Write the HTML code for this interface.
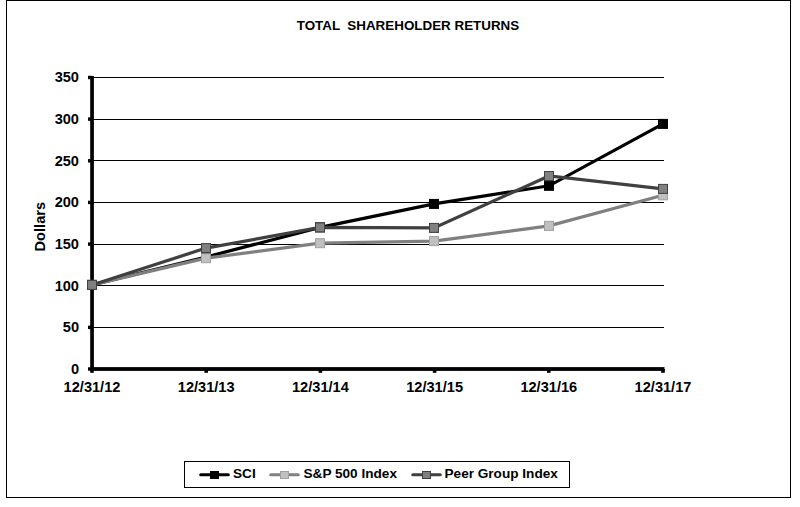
<!DOCTYPE html>
<html><head><meta charset="utf-8"><title>Total Shareholder Returns</title>
<style>
html,body{margin:0;padding:0;background:#fff;}
body{width:800px;height:507px;overflow:hidden;font-family:"Liberation Sans",sans-serif;}
svg{display:block;}
text{font-family:"Liberation Sans",sans-serif;font-weight:bold;fill:#000;}
</style></head><body>
<svg width="800" height="507" viewBox="0 0 800 507">
<rect x="0" y="0" width="800" height="507" fill="#fff"/>
<g shape-rendering="crispEdges">
<rect x="6" y="0" width="785" height="1" fill="#000"/>
<rect x="6" y="497" width="785" height="1" fill="#000"/>
<rect x="6" y="0" width="1" height="498" fill="#000"/>
<rect x="790" y="0" width="1" height="498" fill="#000"/>
<rect x="92" y="327" width="572" height="1" fill="#000"/><rect x="92" y="285" width="572" height="1" fill="#000"/><rect x="92" y="244" width="572" height="1" fill="#000"/><rect x="92" y="202" width="572" height="1" fill="#000"/><rect x="92" y="160" width="572" height="1" fill="#000"/><rect x="92" y="119" width="572" height="1" fill="#000"/><rect x="92" y="77" width="572" height="1" fill="#000"/>
</g>
<rect x="90.2" y="76" width="3.7" height="294.9" fill="#000"/>
<rect x="90.2" y="367.1" width="574.3" height="3.8" fill="#000"/><rect x="90.2" y="369" width="3.6" height="3.8" fill="#000"/><rect x="204.4" y="369" width="3.6" height="3.8" fill="#000"/><rect x="318.6" y="369" width="3.6" height="3.8" fill="#000"/><rect x="432.8" y="369" width="3.6" height="3.8" fill="#000"/><rect x="547.0" y="369" width="3.6" height="3.8" fill="#000"/><rect x="661.2" y="369" width="3.6" height="3.8" fill="#000"/><rect x="88" y="367.3" width="4" height="3.4" fill="#000"/><rect x="88" y="325.7" width="4" height="3.4" fill="#000"/><rect x="88" y="284.0" width="4" height="3.4" fill="#000"/><rect x="88" y="242.4" width="4" height="3.4" fill="#000"/><rect x="88" y="200.7" width="4" height="3.4" fill="#000"/><rect x="88" y="159.1" width="4" height="3.4" fill="#000"/><rect x="88" y="117.4" width="4" height="3.4" fill="#000"/><rect x="88" y="75.8" width="4" height="3.4" fill="#000"/>
<text x="408" y="30.4" text-anchor="middle" font-size="13.4" xml:space="preserve">TOTAL  SHAREHOLDER RETURNS</text>
<g font-size="14.6"><text x="79" y="373.8" text-anchor="end">0</text><text x="79" y="332.2" text-anchor="end">50</text><text x="79" y="290.5" text-anchor="end">100</text><text x="79" y="248.9" text-anchor="end">150</text><text x="79" y="207.2" text-anchor="end">200</text><text x="79" y="165.6" text-anchor="end">250</text><text x="79" y="123.9" text-anchor="end">300</text><text x="79" y="82.3" text-anchor="end">350</text><text x="92.0" y="392" text-anchor="middle">12/31/12</text><text x="206.2" y="392" text-anchor="middle">12/31/13</text><text x="320.4" y="392" text-anchor="middle">12/31/14</text><text x="434.6" y="392" text-anchor="middle">12/31/15</text><text x="548.8" y="392" text-anchor="middle">12/31/16</text><text x="663.0" y="392" text-anchor="middle">12/31/17</text></g>
<text transform="translate(44.8,226.7) rotate(-90)" text-anchor="middle" font-size="14.6">Dollars</text>
<polyline points="92.0,284.9 206.0,257.0 320.0,227.4 434.0,203.9 549.0,185.8 663.0,123.9" fill="none" stroke="#000" stroke-width="3.2"/>
<rect x="87.5" y="280.4" width="9" height="9" fill="#000" stroke="#000" stroke-width="1"/><rect x="201.5" y="252.5" width="9" height="9" fill="#000" stroke="#000" stroke-width="1"/><rect x="315.5" y="222.9" width="9" height="9" fill="#000" stroke="#000" stroke-width="1"/><rect x="429.5" y="199.4" width="9" height="9" fill="#000" stroke="#000" stroke-width="1"/><rect x="544.5" y="181.3" width="9" height="9" fill="#000" stroke="#000" stroke-width="1"/><rect x="658.5" y="119.4" width="9" height="9" fill="#000" stroke="#000" stroke-width="1"/>
<polyline points="92.0,284.9 206.0,258.2 320.0,243.2 434.0,241.1 549.0,225.9 663.0,195.3" fill="none" stroke="#808080" stroke-width="3.2"/>
<rect x="87.5" y="280.4" width="9" height="9" fill="#c0c0c0" stroke="#a0a0a0" stroke-width="1"/><rect x="201.5" y="253.7" width="9" height="9" fill="#c0c0c0" stroke="#a0a0a0" stroke-width="1"/><rect x="315.5" y="238.7" width="9" height="9" fill="#c0c0c0" stroke="#a0a0a0" stroke-width="1"/><rect x="429.5" y="236.6" width="9" height="9" fill="#c0c0c0" stroke="#a0a0a0" stroke-width="1"/><rect x="544.5" y="221.4" width="9" height="9" fill="#c0c0c0" stroke="#a0a0a0" stroke-width="1"/><rect x="658.5" y="190.8" width="9" height="9" fill="#c0c0c0" stroke="#a0a0a0" stroke-width="1"/>
<polyline points="92.0,284.9 206.0,248.1 320.0,227.4 434.0,227.9 549.0,176.0 663.0,188.9" fill="none" stroke="#404040" stroke-width="3.2"/>
<rect x="87.5" y="280.4" width="9" height="9" fill="#808080" stroke="#404040" stroke-width="1"/><rect x="201.5" y="243.6" width="9" height="9" fill="#808080" stroke="#404040" stroke-width="1"/><rect x="315.5" y="222.9" width="9" height="9" fill="#808080" stroke="#404040" stroke-width="1"/><rect x="429.5" y="223.4" width="9" height="9" fill="#808080" stroke="#404040" stroke-width="1"/><rect x="544.5" y="171.5" width="9" height="9" fill="#808080" stroke="#404040" stroke-width="1"/><rect x="658.5" y="184.4" width="9" height="9" fill="#808080" stroke="#404040" stroke-width="1"/>
<g shape-rendering="crispEdges">
<rect x="184.5" y="461.5" width="385" height="26" fill="#fff" stroke="#000" stroke-width="1"/>
</g>
<g font-size="13.6">
<line x1="200.7" y1="474.7" x2="228.3" y2="474.7" stroke="#000" stroke-width="3" stroke-linecap="round"/><rect x="210" y="471" width="9" height="8" fill="#000"/>
<text x="233" y="478.4">SCI</text>
<line x1="270.7" y1="474.7" x2="298.3" y2="474.7" stroke="#808080" stroke-width="3" stroke-linecap="round"/><rect x="280.5" y="471.5" width="8" height="7" fill="#c0c0c0" stroke="#a0a0a0"/>
<text x="303.5" y="478.4">S&amp;P 500 Index</text>
<line x1="412.7" y1="474.7" x2="440.3" y2="474.7" stroke="#404040" stroke-width="3" stroke-linecap="round"/><rect x="422.5" y="471.5" width="8" height="7" fill="#808080" stroke="#404040"/>
<text x="444.5" y="478.4">Peer Group Index</text>
</g>
</svg>
</body></html>
